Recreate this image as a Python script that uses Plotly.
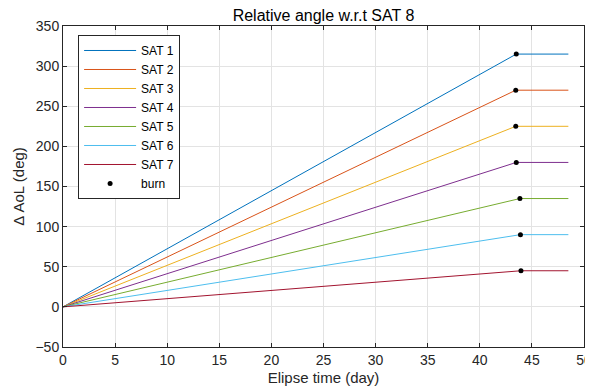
import plotly.graph_objects as go

sats = ["SAT 1", "SAT 2", "SAT 3", "SAT 4", "SAT 5", "SAT 6", "SAT 7"]
final_angle = [315, 270, 225, 180, 135, 90, 45]
burn_time = [43.5, 43.45, 43.45, 43.5, 43.85, 43.9, 43.95]
start_time = 0.0
end_time = 48.5
colors = ["#0072BD", "#D95319", "#EDB120", "#7E2F8E", "#77AC30", "#4DBEEE", "#A2142F"]

FONT = "Liberation Sans, Arial"
W, H = 585, 382  # page body adds an 8px offset

fig = go.Figure()
for name, a, t, c in zip(sats, final_angle, burn_time, colors):
    fig.add_trace(go.Scatter(x=[start_time, t, end_time], y=[0, a, a], mode="lines",
                             name=name, line=dict(color=c, width=1)))
fig.add_trace(go.Scatter(x=burn_time, y=final_angle, mode="markers", name="burn",
                         marker=dict(color="black", size=5)))

axis_common = dict(showgrid=True, gridcolor="#E3E3E3", gridwidth=1, zeroline=False,
                   showline=True, linecolor="#262626", linewidth=1, mirror="ticks",
                   ticks="inside", ticklen=4, tickcolor="#262626", automargin=False,
                   tickfont=dict(family=FONT, size=14, color="#262626"))

fig.update_layout(
    width=W, height=H,
    margin=dict(l=55, r=9, t=18, b=43),
    paper_bgcolor="white", plot_bgcolor="white",
    title=dict(text="Relative angle w.r.t SAT 8", x=(55 + 576) / 2 / W, xanchor="center",
               y=1 - 7 / H, yanchor="middle",
               font=dict(family=FONT, size=16, color="black")),
    xaxis=dict(range=[0, 50], dtick=5, **axis_common,
               title=dict(text="Elipse time (day)", standoff=5,
                          font=dict(family=FONT, size=15, color="#262626"))),
    yaxis=dict(range=[-50, 350], dtick=50, **axis_common,
               title=dict(text="Δ AoL (deg)", standoff=7,
                          font=dict(family=FONT, size=15, color="#262626"))),
    legend=dict(x=0.029, y=0.972, xanchor="left", yanchor="top",
                bgcolor="white", bordercolor="#262626", borderwidth=1,
                font=dict(family=FONT, size=12, color="black"),
                tracegroupgap=0, itemwidth=52),
    showlegend=True,
)

fig.write_html("out.html")
